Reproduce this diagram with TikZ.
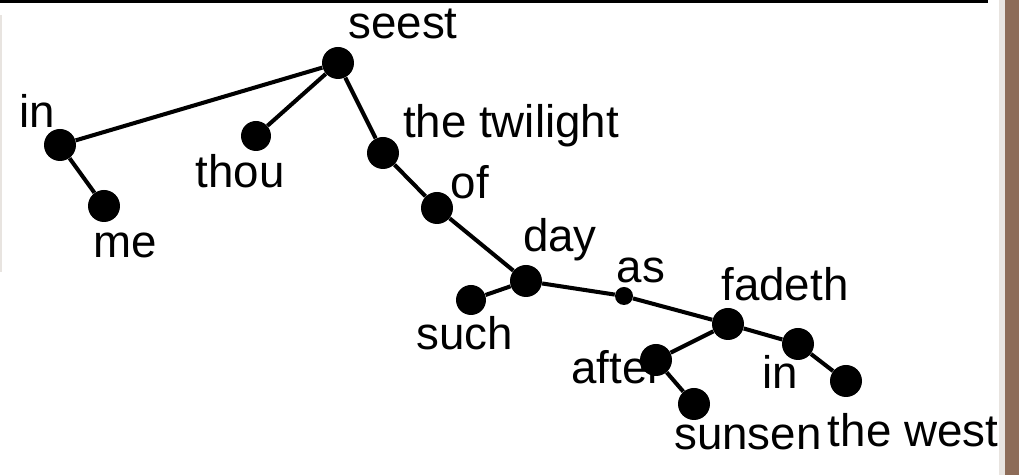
\documentclass[tikz,border=0pt]{standalone}
\usepackage{fontspec}
\setmainfont{Liberation Sans}
\definecolor{edgebrown}{RGB}{141,108,88}
\definecolor{edgegray}{RGB}{232,228,224}
\begin{document}
\begin{tikzpicture}[x=0.02cm,y=-0.02cm,
  dot/.style={circle,fill=black,inner sep=0pt,minimum size=0.64cm},
  smalldot/.style={circle,fill=black,inner sep=0pt,minimum size=0.36cm},
  link/.style={line width=2.3pt,black},
  word/.style={font=\fontsize{26}{28}\selectfont,inner sep=0pt}]
\useasboundingbox (0,0) rectangle (1019,475);
\fill[white] (0,0) rectangle (1019,475);
% frame pieces
\fill[edgegray] (999,0) rectangle (1005,475);
\fill[edgebrown] (1005,0) rectangle (1019,475);
\fill[edgegray] (0,15) rectangle (2,272);
\draw[line width=1.8pt] (0,1.5) -- (988,1.5);
% nodes
\node[dot] (seest) at (338,63) {};
\node[dot] (in) at (60,145) {};
\node[dot] (me) at (104,206) {};
\node[dot,minimum size=0.6cm] (thou) at (256,136) {};
\node[dot] (twi) at (383,153) {};
\node[dot] (of) at (437,208) {};
\node[dot] (day) at (526,281) {};
\node[dot,minimum size=0.6cm] (such) at (471,300) {};
\node[smalldot] (as) at (624,296) {};
\node[dot] (fad) at (728,324) {};
\node[dot] (aft) at (656,360) {};
\node[dot] (sun) at (694,404) {};
\node[dot] (in2) at (798,344) {};
\node[dot] (west) at (846,381) {};
% edges
\draw[link] (seest) -- (in);
\draw[link] (seest) -- (thou);
\draw[link] (seest) -- (twi);
\draw[link] (in) -- (me);
\draw[link] (twi) -- (of);
\draw[link] (of) -- (day);
\draw[link] (day) -- (such);
\draw[link] (day) -- (as);
\draw[link] (as) -- (fad);
\draw[link] (fad) -- (aft);
\draw[link] (aft) -- (sun);
\draw[link] (fad) -- (in2);
\draw[link] (in2) -- (west);
% labels
\node[word] (lseest) at (403,24) {seest};
\node[word] (lin) at (37,111) {in};
\node[word] (lme) at (125,245) {me};
\node[word] (lthou) at (240,171) {thou};
\node[word] (ltwi) at (511,126) {the twilight};
\node[word] (lof) at (470,182) {of};
\node[word] (lday) at (560,240) {day};
\node[word] (las) at (641,270) {as};
\node[word] (lfad) at (785,284) {fadeth};
\node[word] (lsuch) at (465,333) {such};
\node[word] (laft) at (617,367) {after};
\node[word] (lsun) at (748,437) {sunsen};
\node[word] (lin2) at (780,372) {in};
\node[word] (lwest) at (913,430) {the west};
\end{tikzpicture}
\end{document}
